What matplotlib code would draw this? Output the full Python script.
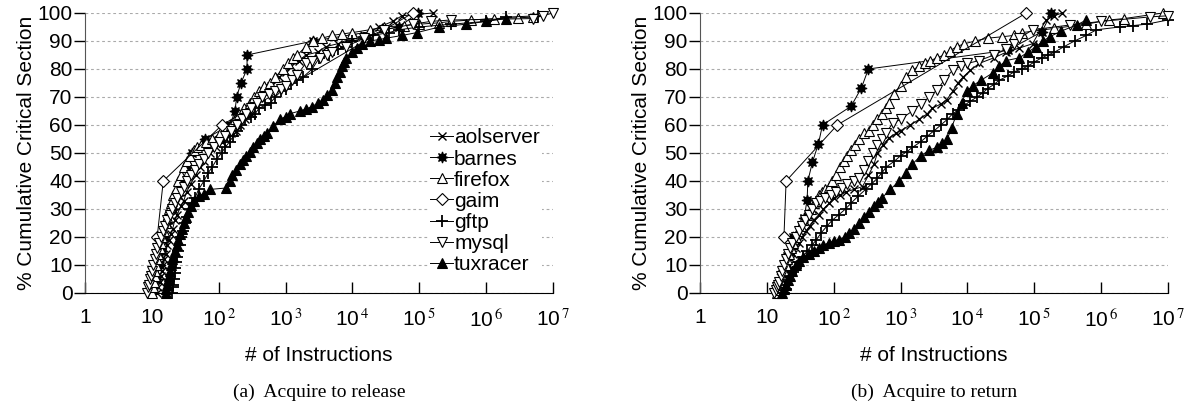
import matplotlib
matplotlib.use("Agg")
import matplotlib.pyplot as plt

plt.rcParams['font.family'] = ['Liberation Sans', 'DejaVu Sans']
plt.rcParams['mathtext.fontset'] = 'stix'

series_names = ["aolserver", "barnes", "firefox", "gaim", "gftp", "mysql", "tuxracer"]

# ---------------- (a) Acquire to release ----------------
a_aolserver_x = [12, 12.5, 13, 13.5, 14, 14.5, 15, 16, 17, 18, 19, 20.5, 22, 24, 27, 30, 33, 38, 45, 52,
                 60, 75, 90, 110, 130, 155, 180, 210, 250, 300, 350, 420, 500, 600, 800, 1000, 1200, 1600,
                 2000, 3000, 4000, 6000, 10000, 15000, 25000, 40000, 55000, 160000]
a_aolserver_y = [0, 2, 4, 6, 8, 10, 12, 14, 17, 19, 21, 23, 26, 28, 31, 33, 36, 39, 42, 45,
                 47, 50, 52, 54, 55, 57, 58, 60, 62, 64, 67, 70, 72, 74, 77, 79, 81, 83,
                 85, 86, 88, 89, 91, 92, 95, 97, 99, 100]

a_barnes_x = [12, 13, 14, 15, 17, 21, 25, 29, 34, 40, 62, 148, 175, 185, 215, 265, 265, 2600, 50000, 95000]
a_barnes_y = [5, 10, 15, 20, 25, 30, 35, 40, 45, 50, 55, 60, 65, 70, 75, 80, 85, 90, 95, 100]

a_firefox_x = [10, 10.3, 10.6, 11, 11.3, 11.7, 12, 12.5, 13, 13.5, 14, 15, 16, 17, 18, 19.5, 21, 23, 25, 27,
               30, 33, 37, 42, 48, 55, 65, 80, 105, 130, 150, 175, 200, 240, 295, 340, 400, 480, 585, 700,
               900, 1100, 1300, 1500, 2000, 2570, 3500, 5000, 7000, 10000, 18000, 30000, 60000, 100000,
               200000, 300000, 600000, 1300000, 3000000, 5000000]
a_firefox_y = [0, 2, 4, 6, 8, 10, 12, 14, 16, 18, 20, 22, 25, 27, 30, 32, 35, 37, 40, 42,
               45, 47, 49, 51, 52, 53, 54, 55, 57, 59, 60, 62, 64, 66, 68, 70, 72, 74, 75, 77,
               80, 82, 84, 85, 88, 90, 91, 92, 92.5, 93, 94, 95, 95.5, 96,
               96.5, 97, 97.5, 98, 98.3, 98.5]

a_gaim_x = [12, 14.8, 112, 80000]
a_gaim_y = [20, 40, 60, 100]

a_gftp_x = [20, 20.5, 21, 21.5, 22, 22.5, 23, 24, 25, 26, 27, 29, 31, 33, 36, 40, 44, 50, 60, 70,
            80, 95, 110, 125, 145, 165, 190, 215, 245, 300, 350, 400, 500, 600, 700, 850, 1000, 1200,
            1500, 1800, 2500, 3200, 4500, 6000, 8000, 10000, 15000, 20000, 35000, 50000, 100000,
            300000, 1000000, 2000000, 6000000]
a_gftp_y = [0, 2, 3, 5, 7, 9, 11, 13, 15, 17, 20, 22, 25, 27, 30, 32, 34, 37, 40, 43,
            45, 48, 50, 52, 54, 56, 58, 60, 62, 63, 64, 66, 67, 68, 70, 72, 73, 75,
            76, 77, 80, 84, 85, 87, 88, 90, 91, 92, 93, 94, 95,
            96, 97, 98.5, 99]

a_mysql_x = [8.5, 8.8, 9, 9.3, 9.6, 10, 10.5, 11, 11.5, 12, 12.7, 13.5, 14.5, 15.5, 17, 18.5, 20, 22, 24, 27,
             30, 34, 38, 44, 50, 60, 70, 85, 100, 125, 150, 185, 220, 260, 300, 370, 450, 560, 700, 850,
             1000, 1250, 1500, 2000, 2500, 3300, 4200, 5000, 8000, 15000, 30000, 80000, 150000, 300000,
             5000000, 7000000, 10000000]
a_mysql_y = [0, 2, 3, 5, 6, 8, 10, 12, 14, 16, 18, 20, 22, 24, 26, 28, 30, 32, 34, 36,
             38, 40, 42, 44, 46, 48, 50, 52, 54, 56, 58, 60, 62, 64, 66, 68, 70, 71, 72, 73,
             74, 76, 78, 82, 83, 84, 85, 86, 88, 91, 94, 96, 97, 97.5,
             98, 99, 100]

a_tuxracer_x = [16, 16.5, 17, 17.5, 18, 18.5, 19, 20, 21, 22, 23.5, 25, 26.5, 28, 30, 32, 35, 38, 43, 50,
                60, 75, 130, 145, 160, 180, 208, 230, 260, 290, 325, 370, 420, 470, 525, 650, 820, 1000,
                1150, 1630, 2000, 2450, 3000, 3600, 4200, 4900, 5400, 5900, 6400, 6900, 7500, 8100, 10000,
                11700, 14000, 18000, 25000, 32000, 56000, 92000, 200000, 500000, 1000000, 2000000]
a_tuxracer_y = [0, 1.5, 3, 4.5, 6, 8, 10, 12, 13, 15, 17, 19, 21, 23, 25, 27, 29, 31, 33, 34.5,
                35.5, 37, 37.5, 40, 42, 44, 46, 47.5, 49, 50.5, 52, 53.5, 55, 56, 57, 59.5, 62, 63,
                64, 65, 65.7, 66.5, 67.7, 69, 70.7, 72.5, 75, 77, 79, 81, 82.5, 84, 86,
                87.5, 89, 90, 90.5, 91, 92, 93, 95, 96, 97, 98]

# ---------------- (b) Acquire to return ----------------
b_aolserver_x = [16, 17, 18, 19, 20, 21.5, 23, 25, 27, 30, 34, 38, 44, 50, 60, 70, 85, 100, 125, 150,
                 200, 270, 330, 400, 450, 550, 680, 850, 1000, 1400, 1900, 2500, 3000, 4000, 4900, 6000,
                 7200, 8500, 11000, 15000, 25000, 38000, 60000, 94000, 150000, 200000, 260000]
b_aolserver_y = [0, 2, 4, 6, 8, 10, 12, 14, 16, 18, 20, 22, 24, 26, 28, 30, 32, 34, 35, 36,
                 37, 38, 42, 46, 50, 53, 55.5, 57, 58, 60, 62, 64, 66, 67.5, 69, 72,
                 75, 77, 79.5, 82, 84, 86, 87.5, 89, 97.5, 99, 100]

b_barnes_x = [17, 20, 25, 36, 40, 41, 48, 59, 68, 182, 260, 330, 40000, 130000, 180000]
b_barnes_y = [6.7, 13.3, 20, 26.7, 33.3, 40, 46.7, 53.3, 60, 66.7, 73.3, 80, 86.7, 93.3, 100]

b_firefox_x = [14, 14.5, 15, 15.5, 16, 17, 18, 19, 20, 21.5, 23, 25, 27, 29, 32, 35, 40, 45, 50, 55,
               60, 67, 75, 85, 95, 110, 125, 140, 160, 180, 210, 240, 280, 340, 390, 450, 520, 600, 680,
               800, 1000, 1200, 1500, 1900, 2300, 2800, 3500, 4500, 5500, 6900, 9000, 13000, 20000,
               33000, 50000, 66000, 200000, 600000, 1300000, 2200000, 8400000]
b_firefox_y = [0, 1, 2, 3, 4, 6, 8, 10, 12, 14, 16, 18, 20, 22, 24, 26, 28, 30, 32, 33,
               35, 36, 37, 38, 40, 42, 45, 47, 49, 51, 53, 55, 57, 58, 60, 62, 64, 66, 68,
               71, 74, 77, 79.6, 81, 82, 83, 84, 85, 86.5, 88, 89, 90, 91,
               91.5, 92, 93, 94.5, 96, 97.5, 98, 100]

b_gaim_x = [18, 19.4, 113, 76000]
b_gaim_y = [20, 40, 60, 100]

b_gftp_x = [18, 19, 20, 21.5, 23, 25, 27, 30, 35, 40, 47, 55, 65, 80, 95, 120, 150, 180, 230, 300,
            370, 450, 530, 610, 800, 1000, 1250, 1500, 2000, 2500, 3200, 4000, 5000, 6000, 7500, 9000,
            11000, 14000, 17000, 20000, 25000, 30000, 40000, 50000, 65000, 80000, 100000, 130000,
            160000, 200000, 280000, 400000, 600000, 850000, 1900000, 3000000, 4800000, 10000000]
b_gftp_y = [0, 1.5, 3, 4.5, 6, 7.5, 9, 11, 13, 15, 17, 19, 21.5, 24, 26, 28, 30, 32, 34.5, 37,
            39, 41, 43, 45, 47, 49, 50.5, 52, 54, 56, 58, 60, 62, 64, 65.5, 67,
            68.5, 70, 71.5, 73, 74.5, 76, 77.5, 79, 80, 81, 82.5, 84,
            85, 86, 88, 90, 92, 94, 95, 95.5, 96, 97.5]

b_mysql_x = [13, 13.5, 14, 14.5, 15, 16, 17, 18, 19, 20.5, 22, 24, 27, 30, 33, 37, 42, 48, 55, 63,
             75, 90, 110, 135, 160, 200, 240, 280, 330, 390, 450, 520, 600, 760, 1000, 1500, 2000, 2700,
             3500, 4500, 6000, 8000, 10000, 15000, 25000, 38000, 50000, 60000, 94000, 340000, 1000000,
             5400000, 10000000]
b_mysql_y = [0, 1, 2, 3, 4, 6, 8, 10, 12, 14, 16, 18, 20, 22, 24, 26, 28, 30, 32, 33,
             34, 35, 36, 37.5, 39, 40, 41, 44, 47, 50, 53, 55, 57, 60.6, 62, 65, 67.5, 70,
             72.5, 76, 79.6, 81, 82, 83, 85, 87, 89, 91, 94, 95.7, 97,
             98.6, 99]

b_tuxracer_x = [17, 18, 19, 20.5, 22, 24, 27, 30, 35, 42, 50, 60, 70, 85, 100, 120, 145, 170, 200, 240,
                280, 340, 400, 460, 530, 700, 960, 1200, 1500, 2000, 2700, 3500, 4200, 5000, 5800, 6900,
                8200, 9700, 12000, 16000, 24000, 30000, 38000, 60000, 80000, 107000, 135000, 170000,
                250000, 430000, 600000]
b_tuxracer_y = [0, 1.5, 3, 4.5, 6, 8, 10, 11.5, 13, 14, 15, 16, 17, 18, 18.5, 19, 20, 21.5, 23, 25,
                27, 29, 31, 32.5, 34, 37, 40, 43, 46, 49, 51, 52, 53.5, 55, 59, 64,
                68, 72, 74, 76, 78.6, 81, 83, 84, 86, 88, 90, 91.5,
                93.5, 95.7, 97.5]

panel_a = {
    "aolserver": (a_aolserver_x, a_aolserver_y),
    "barnes": (a_barnes_x, a_barnes_y),
    "firefox": (a_firefox_x, a_firefox_y),
    "gaim": (a_gaim_x, a_gaim_y),
    "gftp": (a_gftp_x, a_gftp_y),
    "mysql": (a_mysql_x, a_mysql_y),
    "tuxracer": (a_tuxracer_x, a_tuxracer_y),
}
panel_b = {
    "aolserver": (b_aolserver_x, b_aolserver_y),
    "barnes": (b_barnes_x, b_barnes_y),
    "firefox": (b_firefox_x, b_firefox_y),
    "gaim": (b_gaim_x, b_gaim_y),
    "gftp": (b_gftp_x, b_gftp_y),
    "mysql": (b_mysql_x, b_mysql_y),
    "tuxracer": (b_tuxracer_x, b_tuxracer_y),
}

captions = ["(a)  Acquire to release", "(b)  Acquire to return"]
xtick_values = [1, 10, 100, 1000, 10000, 100000, 1000000, 10000000]
xtick_labels = ["1", "10", "10$^{\\,2}$", "10$^{\\,3}$", "10$^{\\,4}$", "10$^{\\,5}$", "10$^{\\,6}$", "10$^{\\,7}$"]
ytick_values = list(range(0, 101, 10))

styles = {
    "aolserver": dict(marker="x", ms=6, mfc="black", mew=1.0),
    "barnes": dict(marker=(8, 1, 0), ms=8, mfc="black", mew=0.8),
    "firefox": dict(marker="^", ms=7, mfc="white", mew=0.8),
    "gaim": dict(marker="D", ms=6, mfc="white", mew=0.8),
    "gftp": dict(marker="+", ms=8, mfc="black", mew=1.3),
    "mysql": dict(marker="v", ms=7, mfc="white", mew=0.8),
    "tuxracer": dict(marker="^", ms=7, mfc="black", mew=0.8),
}

fig = plt.figure(figsize=(11.96, 4.08), dpi=100)
ax_positions = [[0.0711, 0.2819, 0.3913, 0.6863], [0.5853, 0.2819, 0.3913, 0.6863]]

for i, (pos, data) in enumerate(zip(ax_positions, [panel_a, panel_b])):
    ax = fig.add_axes(pos)
    for k, name in enumerate(series_names):
        xs, ys = data[name]
        ax.plot(xs, ys, color="black", lw=0.7, mec="black", label=name,
                zorder=3 + k, clip_on=False, **styles[name])
    ax.set_xscale("log")
    ax.set_xlim(1, 1e7)
    ax.set_ylim(0, 100)
    ax.set_xticks(xtick_values)
    ax.set_xticklabels(xtick_labels, fontsize=15)
    ax.xaxis.set_minor_locator(matplotlib.ticker.NullLocator())
    ax.set_yticks(ytick_values)
    ax.set_yticklabels([str(v) for v in ytick_values], fontsize=15)
    ax.tick_params(axis="x", direction="in", length=8, width=1, pad=11)
    ax.tick_params(axis="y", direction="out", length=8, width=1, pad=1)
    for s in ["top", "right"]:
        ax.spines[s].set_visible(False)
    ax.spines["left"].set_color("#555555")
    ax.spines["bottom"].set_color("black")
    ax.yaxis.grid(True, linestyle=(0, (2.5, 2.5)), color="#aaaaaa", lw=0.8)
    ax.set_axisbelow(True)
    ax.set_xlabel("# of Instructions", fontsize=15, labelpad=11)
    ax.set_ylabel("% Cumulative Critical Section", fontsize=15, labelpad=1)
    ax.text(0.5, -0.355, captions[i], transform=ax.transAxes, ha="center", va="center",
            fontsize=14, family="Liberation Serif")
    if i == 0:
        leg = ax.legend(loc="upper left", bbox_to_anchor=(0.733, 0.595), fontsize=15,
                        frameon=True, fancybox=False, edgecolor="none", facecolor="white",
                        framealpha=1, borderpad=0.1, labelspacing=0.1, handlelength=1.1,
                        handletextpad=0.05, borderaxespad=0)
        leg.set_zorder(20)

fig.savefig("out.png", dpi=100)
